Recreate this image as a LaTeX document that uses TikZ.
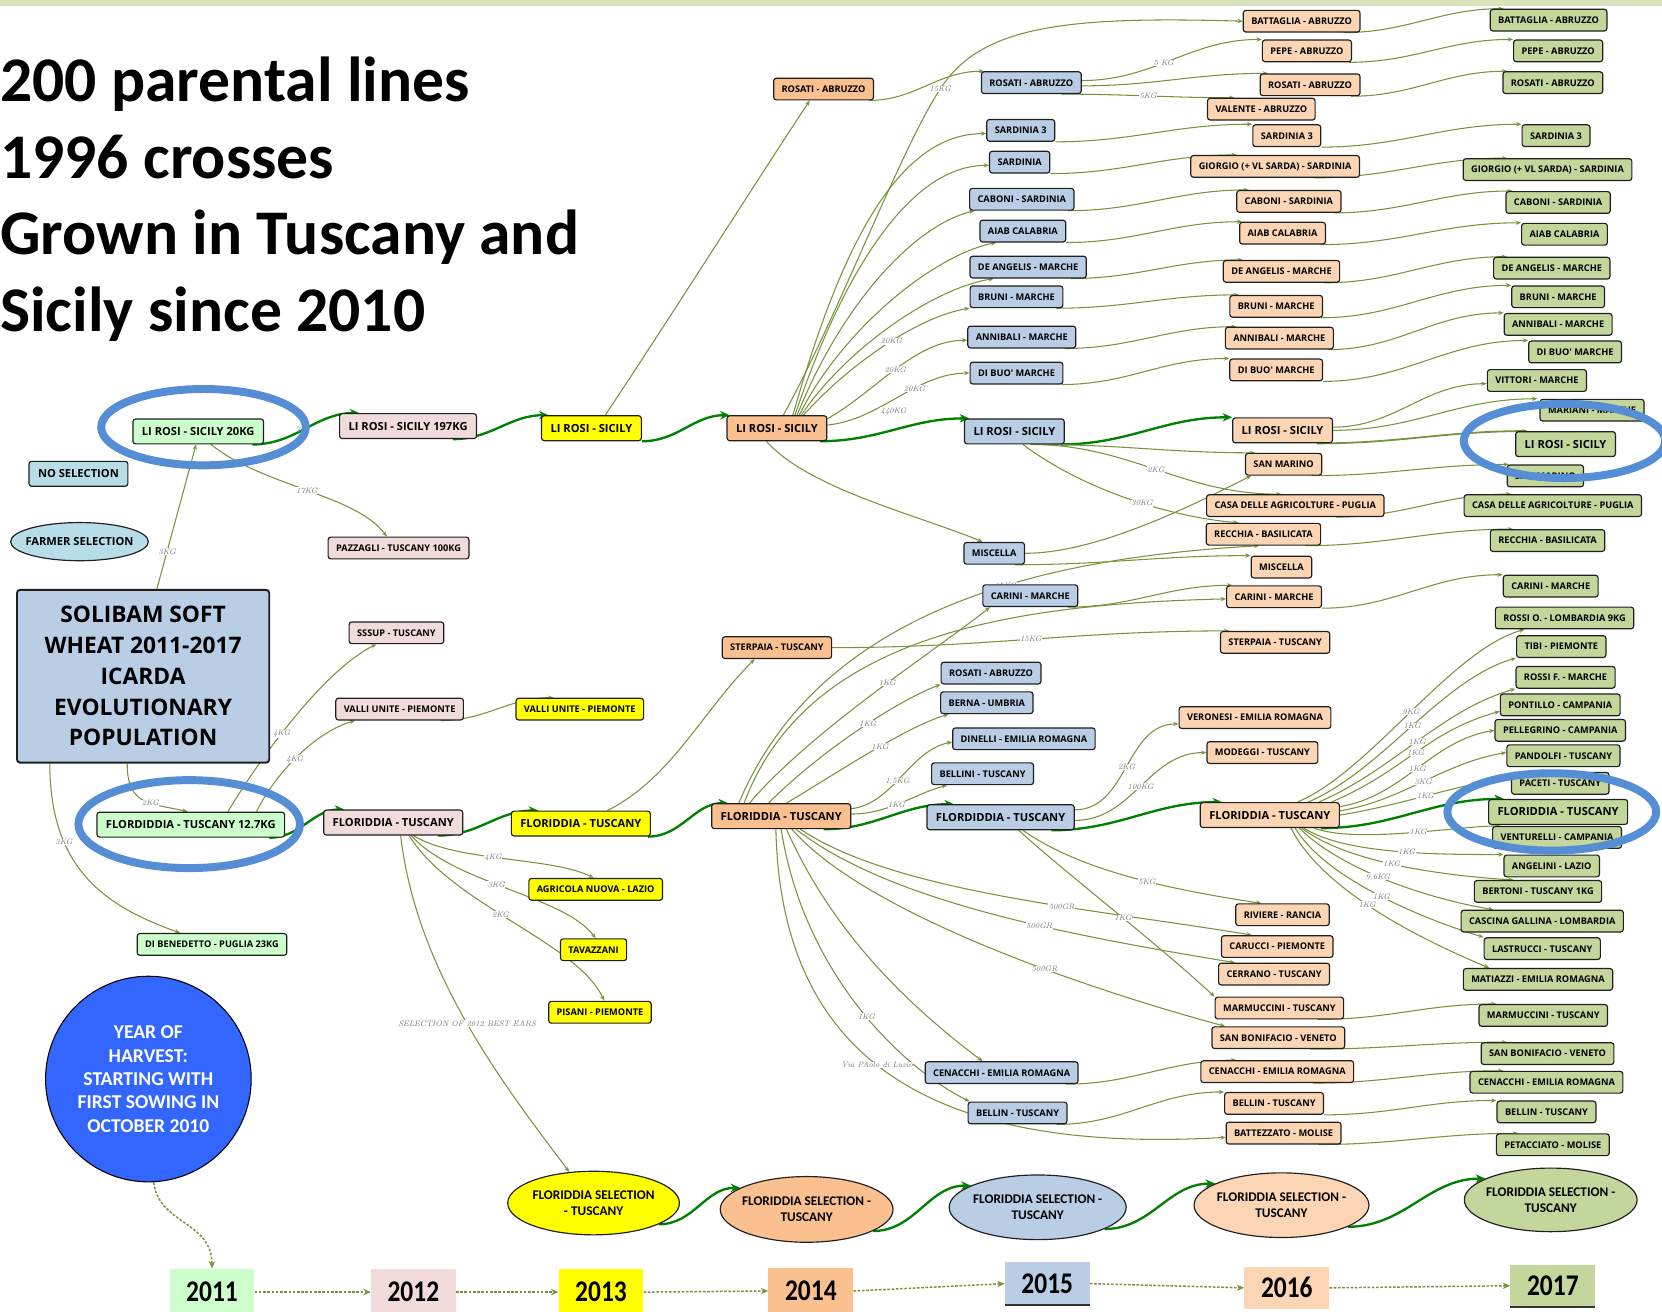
\documentclass[tikz,border=0pt]{standalone}
\usepackage{fontspec}
\usepackage{graphicx}
\usetikzlibrary{arrows.meta,shapes.geometric}
\newfontfamily\osf{Open Sans}
\newfontfamily\carl{Carlito}
\pgfdeclarelayer{edges}
\pgfsetlayers{edges,main}
\definecolor{c11}{HTML}{CCFFCC}
\definecolor{c12}{HTML}{F2DCDB}
\definecolor{c13}{HTML}{FFFF00}
\definecolor{c14}{HTML}{FAC090}
\definecolor{c15}{HTML}{B9CDE5}
\definecolor{c16}{HTML}{FCD5B5}
\definecolor{c17}{HTML}{C3D69B}
\definecolor{cns}{HTML}{B7DEE8}
\definecolor{olv}{HTML}{77933C}
\definecolor{dkg}{HTML}{008000}
\definecolor{hil}{HTML}{558ED5}
\definecolor{yrc}{HTML}{3366FF}
\definecolor{band}{HTML}{D7E4BD}
\tikzset{
 bx/.style={draw=black!88, line width=1.1pt, rounded corners=2.5pt, inner xsep=7.5pt, inner ysep=0pt, minimum height=20.5pt, text height=6.3pt, text depth=0pt, font=\osf\bfseries\fontsize{8.7}{10}\selectfont},
 bg/.style={bx, minimum height=23.5pt, inner xsep=8.5pt, text height=7.5pt, font=\osf\bfseries\fontsize{10.5}{12}\selectfont},
 ln/.style={draw=olv, line width=1pt, -{Stealth[length=5pt,width=4pt]}},
 mln/.style={draw=dkg, line width=2.2pt, -{Stealth[length=9pt,width=8pt]}},
 lab/.style={font=\itshape\fontsize{7.5}{8}\selectfont, text=black!55, fill=white, inner sep=0.4pt},
 dsh/.style={draw=olv, line width=1.4pt, dash pattern=on 2.5pt off 1.5pt, -{Stealth[length=7pt,width=6pt]}},
 sel/.style={ellipse, draw=black!88, line width=1.1pt, inner sep=0pt},
 seltxt/.style={align=center, inner sep=0pt, font=\carl\bfseries\fontsize{12.5}{15}\selectfont},
 yrbox/.style={minimum width=80pt, minimum height=44pt, inner sep=0pt, font=\carl\bfseries\fontsize{24}{24}\selectfont},
 hl/.style={ellipse, draw=hil, line width=7.5pt, inner sep=0pt},
 ttl/.style={anchor=base west, inner sep=0pt, font=\carl\bfseries\fontsize{60}{60}\selectfont},
}
\begin{document}
\begin{tikzpicture}[x=1pt,y=-1pt]
\useasboundingbox (0,0) rectangle (1568,1237);
% ---------- title
\node[ttl] (t1) at (0,96) {200 parental lines};
\node[ttl] (t2) at (0,168) {1996 crosses};
\node[ttl] (t3) at (0,240) {Grown in Tuscany and};
\node[ttl] (t4) at (0,313) {Sicily since 2010};
% ---------- 2011
\node[bg, fill=c11] (a1) at (187,407) {LI ROSI - SICILY 20KG};
\node[bg, fill=cns] (nosel) at (74,447) {NO SELECTION};
\node[sel, fill=cns, minimum width=130pt, minimum height=36pt] (farm) at (75,511) {};
\node[inner sep=0pt, font=\osf\bfseries\fontsize{10.5}{12}\selectfont] (farmt) at (farm) {FARMER SELECTION};
\node[draw=black!88, line width=1.8pt, rounded corners=3pt, fill=c15, minimum width=238pt, minimum height=163pt, align=center, font=\osf\bfseries\fontsize{21.5}{29}\selectfont] (sol) at (135,638) {SOLIBAM SOFT\\WHEAT 2011-2017\\ICARDA\\EVOLUTIONARY\\POPULATION};
\node[bg, fill=c11] (a2) at (180,778) {FLORDIDDIA - TUSCANY 12.7KG};
\node[bx, fill=c11] (a3) at (200,891) {DI BENEDETTO - PUGLIA 23KG};
\node[circle, draw=black, line width=1pt, fill=yrc, minimum size=194pt, inner sep=0pt, text=white, align=center, font=\carl\bfseries\fontsize{18.5}{22}\selectfont] (yr) at (140,1018) {YEAR OF\\HARVEST:\\STARTING WITH\\FIRST SOWING IN\\OCTOBER 2010};
% ---------- 2012
\node[bg, fill=c12] (b1) at (385,402) {LI ROSI - SICILY 197KG};
\node[bx, fill=c12] (b2) at (376,517) {PAZZAGLI - TUSCANY 100KG};
\node[bx, fill=c12] (b3) at (374,597) {SSSUP - TUSCANY};
\node[bx, fill=c12] (b4) at (377,669) {VALLI UNITE - PIEMONTE};
\node[bg, fill=c12] (b5) at (371,776) {FLORIDDIA - TUSCANY};
% ---------- 2013
\node[bg, fill=c13] (c1) at (558,404) {LI ROSI - SICILY};
\node[bx, fill=c13] (c2) at (547,669) {VALLI UNITE - PIEMONTE};
\node[bg, fill=c13] (c3) at (548,777) {FLORIDDIA - TUSCANY};
\node[bx, fill=c13] (c4) at (562,839) {AGRICOLA NUOVA - LAZIO};
\node[bx, fill=c13] (c5) at (560,896) {TAVAZZANI};
\node[bx, fill=c13] (c6) at (566,955) {PISANI - PIEMONTE};
\node[sel, fill=c13, minimum width=162pt, minimum height=60pt] (c7) at (560,1135) {};
\node[seltxt] (c7t) at (c7) {FLORIDDIA SELECTION\\- TUSCANY};
% ---------- 2014
\node[bx, fill=c14] (d1) at (777,84) {ROSATI - ABRUZZO};
\node[bg, fill=c14] (d2) at (733,404) {LI ROSI - SICILY};
\node[bx, fill=c14] (d3) at (733,611) {STERPAIA - TUSCANY};
\node[bg, fill=c14] (d4) at (737,770) {FLORIDDIA - TUSCANY};
\node[sel, fill=c14, minimum width=163pt, minimum height=62pt] (d5) at (761,1141) {};
\node[seltxt] (d5t) at (d5) {FLORIDDIA SELECTION -\\TUSCANY};
% ---------- 2015
\node[bx, fill=c15] (e1) at (973,78) {ROSATI - ABRUZZO};
\node[bx, fill=c15] (e2) at (963,123) {SARDINIA 3};
\node[bx, fill=c15] (e3) at (962,153) {SARDINIA};
\node[bx, fill=c15] (e4) at (964,188) {CABONI - SARDINIA};
\node[bx, fill=c15] (e5) at (965,218) {AIAB CALABRIA};
\node[bx, fill=c15] (e6) at (970,252) {DE ANGELIS - MARCHE};
\node[bx, fill=c15] (e7) at (959,280) {BRUNI - MARCHE};
\node[bx, fill=c15] (e8) at (964,318) {ANNIBALI - MARCHE};
\node[bx, fill=c15] (e9) at (959,352) {DI BUO' MARCHE};
\node[bg, fill=c15] (e10) at (957,407) {LI ROSI - SICILY};
\node[bx, fill=c15] (e11) at (938,522) {MISCELLA};
\node[bx, fill=c15] (e12) at (972,562) {CARINI - MARCHE};
\node[bx, fill=c15] (e13) at (935,635) {ROSATI - ABRUZZO};
\node[bx, fill=c15] (e14) at (931,663) {BERNA - UMBRIA};
\node[bx, fill=c15] (e15) at (966,697) {DINELLI - EMILIA ROMAGNA};
\node[bx, fill=c15] (e16) at (927,730) {BELLINI - TUSCANY};
\node[bg, fill=c15] (e17) at (944,771) {FLORDIDDIA - TUSCANY};
\node[bx, fill=c15] (e18) at (945,1012) {CENACCHI - EMILIA ROMAGNA};
\node[bx, fill=c15] (e19) at (960,1050) {BELLIN - TUSCANY};
\node[sel, fill=c15, minimum width=167pt, minimum height=61pt] (e20) at (979,1139) {};
\node[seltxt] (e20t) at (e20) {FLORIDDIA SELECTION -\\TUSCANY};
% ---------- 2016
\node[bx, fill=c16] (f1) at (1228,20) {BATTAGLIA - ABRUZZO};
\node[bx, fill=c16] (f2) at (1233,48) {PEPE - ABRUZZO};
\node[bx, fill=c16] (f3) at (1236,80) {ROSATI - ABRUZZO};
\node[bx, fill=c16] (f4) at (1190,103) {VALENTE - ABRUZZO};
\node[bx, fill=c16] (f5) at (1214,128) {SARDINIA 3};
\node[bx, fill=c16] (f6) at (1203,157) {GIORGIO (+ VL SARDA) - SARDINIA};
\node[bx, fill=c16] (f7) at (1216,190) {CABONI - SARDINIA};
\node[bx, fill=c16] (f8) at (1210,220) {AIAB CALABRIA};
\node[bx, fill=c16] (f9) at (1209,256) {DE ANGELIS - MARCHE};
\node[bx, fill=c16] (f10) at (1204,289) {BRUNI - MARCHE};
\node[bx, fill=c16] (f11) at (1207,319) {ANNIBALI - MARCHE};
\node[bx, fill=c16] (f12) at (1204,349) {DI BUO' MARCHE};
\node[bg, fill=c16] (f13) at (1210,406) {LI ROSI - SICILY};
\node[bx, fill=c16] (f14) at (1211,438) {SAN MARINO};
\node[bx, fill=c16] (f15) at (1222,477) {CASA DELLE AGRICOLTURE - PUGLIA};
\node[bx, fill=c16] (f16) at (1192,504) {RECCHIA - BASILICATA};
\node[bx, fill=c16] (f17) at (1209,535) {MISCELLA};
\node[bx, fill=c16] (f18) at (1202,563) {CARINI - MARCHE};
\node[bx, fill=c16] (f19) at (1203,606) {STERPAIA - TUSCANY};
\node[bx, fill=c16] (f20) at (1184,677) {VERONESI - EMILIA ROMAGNA};
\node[bx, fill=c16] (f21) at (1191,710) {MODEGGI - TUSCANY};
\node[bg, fill=c16] (f22) at (1198,769) {FLORIDDIA - TUSCANY};
\node[bx, fill=c16] (f23) at (1210,863) {RIVIERE - RANCIA};
\node[bx, fill=c16] (f24) at (1205,893) {CARUCCI - PIEMONTE};
\node[bx, fill=c16] (f25) at (1202,919) {CERRANO - TUSCANY};
\node[bx, fill=c16] (f26) at (1207,951) {MARMUCCINI - TUSCANY};
\node[bx, fill=c16] (f27) at (1206,979) {SAN BONIFACIO - VENETO};
\node[bx, fill=c16] (f28) at (1205,1011) {CENACCHI - EMILIA ROMAGNA};
\node[bx, fill=c16] (f29) at (1202,1041) {BELLIN - TUSCANY};
\node[bx, fill=c16] (f30) at (1211,1069) {BATTEZZATO - MOLISE};
\node[sel, fill=c16, minimum width=165pt, minimum height=61pt] (f31) at (1209,1137) {};
\node[seltxt] (f31t) at (f31) {FLORIDDIA SELECTION -\\TUSCANY};
% ---------- 2017
\node[bx, fill=c17] (g1) at (1461,19) {BATTAGLIA - ABRUZZO};
\node[bx, fill=c17] (g2) at (1470,48) {PEPE - ABRUZZO};
\node[bx, fill=c17] (g3) at (1465,78) {ROSATI - ABRUZZO};
\node[bx, fill=c17] (g4) at (1468,128) {SARDINIA 3};
\node[bx, fill=c17] (g5) at (1460,160) {GIORGIO (+ VL SARDA) - SARDINIA};
\node[bx, fill=c17] (g6) at (1470,191) {CABONI - SARDINIA};
\node[bx, fill=c17] (g7) at (1476,221) {AIAB CALABRIA};
\node[bx, fill=c17] (g8) at (1464,253) {DE ANGELIS - MARCHE};
\node[bx, fill=c17] (g9) at (1470,280) {BRUNI - MARCHE};
\node[bx, fill=c17] (g10) at (1470,306) {ANNIBALI - MARCHE};
\node[bx, fill=c17] (g11) at (1486,332) {DI BUO' MARCHE};
\node[bx, fill=c17] (g12) at (1450,359) {VITTORI - MARCHE};
\node[bx, fill=c17] (g13) at (1502,387) {MARIANI - MARCHE};
\node[bg, fill=c17] (g14) at (1477,419) {LI ROSI - SICILY};
\node[bx, fill=c17] (g15) at (1458,449) {SAN MARINO};
\node[bx, fill=c17] (g16) at (1465,477) {CASA DELLE AGRICOLTURE - PUGLIA};
\node[bx, fill=c17] (g17) at (1460,510) {RECCHIA - BASILICATA};
\node[bx, fill=c17] (g18) at (1463,553) {CARINI - MARCHE};
\node[bx, fill=c17] (g19) at (1476,583) {ROSSI O. - LOMBARDIA 9KG};
\node[bx, fill=c17] (g20) at (1473,610) {TIBI - PIEMONTE};
\node[bx, fill=c17] (g21) at (1477,639) {ROSSI F. - MARCHE};
\node[bx, fill=c17] (g22) at (1472,665) {PONTILLO - CAMPANIA};
\node[bx, fill=c17] (g23) at (1472,689) {PELLEGRINO - CAMPANIA};
\node[bx, fill=c17] (g24) at (1475,713) {PANDOLFI - TUSCANY};
\node[bx, fill=c17] (g25) at (1472,739) {PACETI - TUSCANY};
\node[bg, fill=c17] (g26) at (1470,766) {FLORIDDIA - TUSCANY};
\node[bx, fill=c17] (g27) at (1469,790) {VENTURELLI - CAMPANIA};
\node[bx, fill=c17] (g28) at (1464,817) {ANGELINI - LAZIO};
\node[bx, fill=c17] (g29) at (1451,841) {BERTONI - TUSCANY 1KG};
\node[bx, fill=c17] (g30) at (1455,869) {CASCINA GALLINA - LOMBARDIA};
\node[bx, fill=c17] (g31) at (1455,895) {LASTRUCCI - TUSCANY};
\node[bx, fill=c17] (g32) at (1451,924) {MATIAZZI - EMILIA ROMAGNA};
\node[bx, fill=c17] (g33) at (1456,958) {MARMUCCINI - TUSCANY};
\node[bx, fill=c17] (g34) at (1460,994) {SAN BONIFACIO - VENETO};
\node[bx, fill=c17] (g35) at (1459,1021) {CENACCHI - EMILIA ROMAGNA};
\node[bx, fill=c17] (g36) at (1459,1049) {BELLIN - TUSCANY};
\node[bx, fill=c17] (g37) at (1465,1080) {PETACCIATO - MOLISE};
\node[sel, fill=c17, minimum width=163pt, minimum height=60pt] (g38) at (1463,1132) {};
\node[seltxt] (g38t) at (g38) {FLORIDDIA SELECTION -\\TUSCANY};
% ---------- years
\node[yrbox, fill=c11] (y11) at (200,1219) {\scalebox{1}[1.18]{2011}};
\node[yrbox, fill=c12] (y12) at (390,1219) {\scalebox{1}[1.18]{2012}};
\node[yrbox, fill=c13] (y13) at (567,1219) {\scalebox{1}[1.18]{2013}};
\node[yrbox, fill=c14] (y14) at (765,1218) {\scalebox{1}[1.18]{2014}};
\node[yrbox, fill=c15, minimum height=40pt] (y15) at (988,1211) {\scalebox{1}[1.18]{2015}};
\node[yrbox, fill=c16, minimum height=40pt] (y16) at (1214,1215) {\scalebox{1}[1.18]{2016}};
\node[yrbox, fill=c17, minimum height=40pt] (y17) at (1465,1213) {\scalebox{1}[1.18]{2017}};
\draw[line width=1.6pt, black!80] (y15.south west) -- (y15.south east);
\draw[line width=1.6pt, black!80] (y17.south west) -- (y17.south east);
\coordinate (k15) at (887,84);
% =================== edges
\begin{pgfonlayer}{edges}
\fill[band] (0,0) rectangle (1568,6);
\draw[dsh] (y11.east) -- (y12.west);
\draw[dsh] (y12.east) -- (y13.west);
\draw[dsh] (y13.east) -- (y14.west);
\draw[dsh] (y14.east) -- (y15.west);
\draw[dsh] (y15.east) -- (y16.west);
\draw[dsh] (y16.east) -- (y17.west);
\draw[dsh] ([xshift=5pt]yr.south) .. controls +(5,40) and +(0,-45) .. (y11.north);
% main lineages
\draw[mln] ([xshift=-11pt]a1.south east) to[out=0,in=180] ([xshift=19pt]b1.north west);
\draw[mln] ([xshift=-23pt]b1.south east) to[out=0,in=180] ([xshift=7pt]c1.north west);
\draw[mln] (c1.south east) to[out=0,in=180] ([xshift=3pt]d2.north west);
\draw[mln] ([xshift=-7pt]d2.south east) to[out=0,in=180] ([xshift=5pt]e10.north west);
\draw[mln] ([xshift=-4pt]e10.south east) to[out=0,in=180] (f13.north west);
\draw[ln, line width=1.7pt] ([xshift=-15pt]f13.south east) to[out=0,in=180] ([xshift=12pt]g14.north west);
\draw[mln] ([xshift=-15pt]a2.south east) to[out=0,in=180] ([xshift=20pt]b5.north west);
\draw[mln] ([xshift=-24pt]b5.south east) to[out=0,in=180] ([xshift=26pt]c3.north west);
\draw[mln] ([xshift=-3pt]c3.south east) to[out=0,in=180] ([xshift=16pt]d4.north west);
\draw[mln] ([xshift=-26pt]d4.south east) to[out=0,in=180] ([xshift=26pt]e17.north west);
\draw[mln] ([xshift=-22pt]e17.south east) to[out=0,in=180] ([xshift=21pt]f22.north west);
\draw[mln] ([xshift=-18pt]f22.south east) to[out=0,in=180] ([xshift=15pt]g26.north west);
\draw[mln] (c7.-18) to[out=0,in=180] (d5.162);
\draw[mln] (d5.-18) to[out=0,in=180] (e20.162);
\draw[mln] (e20.-18) to[out=0,in=180] (f31.162);
\draw[mln] (f31.-18) to[out=0,in=180] (g38.162);
% 2011 -> 2012
\draw[ln] ([xshift=13pt]sol.north) -- node[lab,pos=.26] (l1) {3KG} ([xshift=-2pt]a1.south);
\draw[ln] ([xshift=-15pt]sol.south) .. controls +(0,40) and +(-35,-8) .. node[lab,pos=.6] (l2) {2KG} ([xshift=-3pt]a2.north);
\draw[ln] ([xshift=-88pt]sol.south) .. controls +(0,100) and +(-70,-25) .. node[lab,pos=.3] (l3) {3KG} ([xshift=-30pt]a3.north);
\draw[ln] ([xshift=12pt]a1.south) .. controls +(50,40) and +(-30,-40) .. node[lab,pos=.5] (l4) {17KG} ([xshift=-11pt]b2.north);
\draw[ln] ([xshift=35pt]a2.north) .. controls +(30,-50) and +(-50,25) .. node[lab,pos=.42] (l5) {4KG} ([xshift=-19pt]b3.south);
\draw[ln] ([xshift=62pt]a2.north) .. controls +(20,-40) and +(-35,10) .. node[lab,pos=.45] (l6) {4KG} ([xshift=-42pt]b4.south);
\node[text=black!45, font=\itshape\fontsize{8}{8}\selectfont, inner sep=0pt] (l7) at (281,405) {7};
% 2012 -> 2013
\draw[ln] ([xshift=-22pt]b4.south east) to[out=0,in=180] ([xshift=36pt]c2.north west);
\draw[ln] ([xshift=19pt]b5.south) .. controls +(40,25) and +(-40,-20) .. node[lab,pos=.45] (l8) {4KG} ([xshift=-2pt]c4.north);
\draw[ln] ([xshift=17pt]b5.south) .. controls +(40,45) and +(-30,-40) .. node[lab,pos=.45] (l9) {3KG} ([xshift=2pt]c5.north);
\draw[ln] ([xshift=15pt]b5.south) .. controls +(40,65) and +(-25,-55) .. node[lab,pos=.45] (l10) {2KG} ([xshift=4pt]c6.north);
\draw[ln] ([xshift=7pt]b5.south) .. controls +(15,130) and +(-60,-80) .. node[lab,pos=.5] (l11) {SELECTION OF 2012 BEST EARS} (c7.128);
% 2013 -> 2014
\draw[ln] ([xshift=25pt]c3.north) .. controls +(60,-30) and +(-50,50) .. ([xshift=-21pt]d3.south);
\draw[ln] ([xshift=13pt]c1.north) .. controls +(60,-90) and +(-40,60) .. ([xshift=-13pt]d1.south);
% 2014 -> 2015/2016
\draw[ln] ([xshift=-5pt]d1.south east) to[out=0,in=180] ([xshift=3pt]e1.north west);
\draw[ln] ([xshift=6pt]d2.north) .. controls +(51,-92) and +(-37,56) .. (k15) .. controls +(38,-59) and +(-170,-5) .. (f1.west);
\node[lab] (l12) at (k15) {15KG};
\draw[ln] ([xshift=15pt]d2.north) .. controls +(40,-140) and +(-90,0) .. ([yshift=-3pt]e2.west);
\draw[ln] ([xshift=17pt]d2.north) .. controls +(40,-120) and +(-80,0) .. ([yshift=-3pt]e3.west);
\draw[ln] ([xshift=19pt]d2.north) .. controls +(40,-100) and +(-60,15) .. ([xshift=5pt]e4.south west);
\draw[ln] ([xshift=21pt]d2.north) .. controls +(40,-80) and +(-60,12) .. ([xshift=16pt]e5.south west);
\draw[ln] ([xshift=23pt]d2.north) .. controls +(40,-60) and +(-60,10) .. ([xshift=23pt]e6.south west);
\draw[ln] ([xshift=25pt]d2.north) .. controls +(40,-45) and +(-50,8) .. node[lab,pos=.55] (l13) {20KG} (e7.south west);
\draw[ln] ([yshift=9pt]d2.east) .. controls +(45,-25) and +(-50,0) .. node[lab,pos=.5] (l14) {20KG} ([yshift=-3pt]e8.west);
\draw[ln] ([yshift=3pt]d2.east) .. controls +(50,-5) and +(-50,0) .. node[lab,pos=.62] (l15) {20KG} (e9.west);
\node[lab] (l16) at (843,388) {440KG};
\draw[ln] ([xshift=-10pt]d2.south) .. controls +(40,45) and +(-60,-25) .. ([xshift=-11pt]e11.north);
\draw[ln] (d3.east) to[out=0,in=180] node[lab,pos=.5] (l17) {15KG} ([xshift=9pt]f19.north west);
% FLORIDDIA 2014 fan
\draw[ln] ([xshift=-30pt]d4.north) .. controls +(60,-70) and +(-50,40) .. node[lab,pos=.55] (l18) {1KG} ([xshift=-38pt]e12.south);
\draw[ln] ([xshift=-12pt]d4.north) .. controls +(50,-50) and +(-40,15) .. node[lab,pos=.55] (l19) {1KG} (e13.south west);
\draw[ln] ([xshift=5pt]d4.north) .. controls +(50,-30) and +(-40,12) .. node[lab,pos=.55] (l20) {1KG} ([xshift=8pt]e14.south west);
\draw[ln] ([yshift=7pt]d4.east) .. controls +(40,-5) and +(-40,8) .. node[lab,pos=.45] (l21) {1.5KG} ([yshift=-3pt]e15.west);
\draw[ln] ([yshift=2pt]d4.east) .. controls +(35,0) and +(-30,8) .. node[lab,pos=.45] (l22) {1KG} ([xshift=15pt]e16.south west);
\draw[ln] ([xshift=-40pt]d4.north) .. controls +(83,-198) and +(-170,10) .. node[lab,pos=.57] (l23) {15KG} ([xshift=-4pt]f16.south);
\draw[ln] ([xshift=-35pt]d4.north) .. controls +(60,-160) and +(-200,5) .. ([yshift=-2pt]f18.west);
\draw[ln] ([xshift=18pt]d4.south) .. controls +(90,60) and +(-150,-25) .. node[lab,pos=.62] (l24) {500GR} ([xshift=-24pt]f24.north);
\draw[ln] ([xshift=14pt]d4.south) .. controls +(90,70) and +(-150,-25) .. node[lab,pos=.6] (l25) {500GR} ([xshift=-37pt]f25.north);
\draw[ln] ([xshift=10pt]d4.south) .. controls +(70,80) and +(-130,-35) .. node[lab,pos=.62] (l26) {500GR} ([xshift=13pt]f27.north west);
\draw[ln] ([xshift=5pt]d4.south) .. controls +(40,90) and +(-80,-60) .. ([xshift=-18pt]e18.north);
\draw[ln] (d4.south) .. controls +(20,130) and +(-70,-35) .. node[lab,pos=.55] (l27) {1KG} ([xshift=2pt]e19.north west);
\draw[ln] ([xshift=-5pt]d4.south) .. controls +(5,230) and +(-260,15) .. node[lab,pos=.45] (l28) {Via PAolo di Luzio} ([yshift=-4pt]f30.west);
% 2015 -> 2016
\draw[ln] ([yshift=2pt]e1.east) to[out=0,in=180] node[lab,pos=.45] (l29) {5 KG} (f2.north west);
\draw[ln] ([yshift=-3pt]e1.east) to[out=0,in=180] ([xshift=8pt]f3.north west);
\draw[ln] ([xshift=-19pt]e1.south east) to[out=0,in=180] node[lab,pos=.5] (l30) {5KG} ([xshift=26pt]f4.north west);
\foreach \s/\t/\ds/\dt in {e2/f5/0/0,e3/f6/0/44,e4/f7/6/12,e5/f8/0/3,e6/f9/15/19,e7/f10/7/9,e8/f11/11/11,e9/f12/2/0,e12/f18/10/6,e11/f17/10/0,e18/f28/12/34,e19/f29/10/0}
  \draw[ln] ([xshift=-\ds pt]\s.south east) to[out=0,in=180] ([xshift=\dt pt]\t.north west);
\draw[ln] ([xshift=20pt]e10.south) to[out=0,in=180] ([xshift=-27pt]f14.north);
\draw[ln] ([xshift=15pt]e10.south) to[out=0,in=180] node[lab,pos=.5] (l31) {2KG} ([xshift=-13pt]f15.north);
\draw[ln] ([xshift=8pt]e10.south) .. controls +(60,45) and +(-60,-5) .. node[lab,pos=.55] (l32) {30KG} ([xshift=31pt]f16.north west);
\draw[ln] (e11.east) .. controls +(70,0) and +(-50,25) .. ([xshift=6pt]f14.south west);
\draw[ln] ([yshift=7pt]e17.east) to[out=0,in=180] node[lab,pos=.5] (l33) {2KG} ([yshift=-6pt]f20.west);
\draw[ln] ([yshift=-3pt]e17.east) to[out=0,in=180] node[lab,pos=.5] (l34) {100KG} (f21.west);
\draw[ln] ([xshift=21pt]e17.south) .. controls +(50,35) and +(-100,-15) .. node[lab,pos=.6] (l35) {5KG} ([xshift=-20pt]f23.north);
\draw[ln] ([xshift=17pt]e17.south) .. controls +(50,45) and +(-60,-55) .. node[lab,pos=.55] (l36) {1KG} (f26.north west);
% 2016 -> 2017
\foreach \s/\t/\ds/\dt in {f1/g1/16/13,f2/g2/3/0,f3/g3/9/5,f5/g4/0/0,f6/g5/43/42,f7/g6/7/7,f8/g7/5/0,f9/g8/15/13,f10/g9/2/0,f11/g10/5/0,f12/g11/0/0,f14/g15/10/2,f15/g16/46/45,f16/g17/15/22,f18/g18/0/0,f26/g33/25/17,f27/g34/33/25,f28/g35/39/32,f29/g36/0/0,f30/g37/22/21}
  \draw[ln] ([xshift=-\ds pt]\s.south east) to[out=0,in=180] ([xshift=\dt pt]\t.north west);
\draw[ln] ([yshift=3pt]f13.east) to[out=0,in=180] ([yshift=-3pt]g12.west);
\draw[ln] (f13.east) to[out=0,in=180] ([xshift=-2pt]g13.north west);
% FLORIDDIA 2016 fan
\draw[ln] ([xshift=-40pt]f22.north east) .. controls +(70,-30) and +(-70,20) .. node[lab,pos=.5] (l37) {9KG} ([xshift=28pt]g19.south west);
\draw[ln] ([xshift=-30pt]f22.north east) .. controls +(70,-30) and +(-70,20) .. node[lab,pos=.5] (l38) {1KG} (g20.south west);
\draw[ln] ([xshift=-20pt]f22.north east) .. controls +(70,-30) and +(-70,20) .. node[lab,pos=.5] (l39) {1KG} (g21.south west);
\draw[ln] ([xshift=-8pt]f22.north east) .. controls +(70,-30) and +(-70,20) .. node[lab,pos=.5] (l40) {1KG} ([yshift=-6pt]g22.west);
\draw[ln] ([yshift=8pt]f22.east) .. controls +(60,-10) and +(-60,10) .. node[lab,pos=.5] (l41) {1KG} (g23.west);
\draw[ln] ([yshift=4pt]f22.east) .. controls +(60,-10) and +(-60,10) .. node[lab,pos=.5] (l42) {3KG} ([yshift=3pt]g24.west);
\draw[ln] (f22.east) .. controls +(60,-10) and +(-60,10) .. node[lab,pos=.5] (l43) {1KG} ([yshift=6pt]g25.west);
\draw[ln] ([xshift=42pt]f22.south) .. controls +(40,15) and +(-40,0) .. node[lab,pos=.55] (l44) {1KG} ([xshift=8pt]g27.north west);
\draw[ln] ([xshift=32pt]f22.south) .. controls +(40,25) and +(-60,0) .. node[lab,pos=.55] (l45) {1KG} (g28.north west);
\draw[ln] ([xshift=30pt]f22.south) .. controls +(40,30) and +(-80,-5) .. node[lab,pos=.5] (l46) {1KG} ([xshift=-23pt]g29.north);
\draw[ln] ([xshift=28pt]f22.south) .. controls +(40,40) and +(-60,-10) .. node[lab,pos=.45] (l47) {9.6KG} ([xshift=31pt]g30.north west);
\draw[ln] ([xshift=24pt]f22.south) .. controls +(30,50) and +(-50,-15) .. node[lab,pos=.5] (l48) {1KG} (g31.north west);
\draw[ln] ([xshift=20pt]f22.south) .. controls +(30,60) and +(-60,-25) .. node[lab,pos=.45] (l49) {1KG} ([xshift=25pt]g32.north west);
\end{pgfonlayer}
% ---------- highlight ellipses
\node[hl, minimum width=193pt, minimum height=72pt] (h1) at (192,403) {};
\node[hl, minimum width=209pt, minimum height=83pt] (h2) at (178.5,777.5) {};
\node[hl, minimum width=190pt, minimum height=70pt] (h3) at (1476,416) {};
\node[hl, minimum width=197pt, minimum height=73pt] (h4) at (1464,766) {};
\end{tikzpicture}
\end{document}
